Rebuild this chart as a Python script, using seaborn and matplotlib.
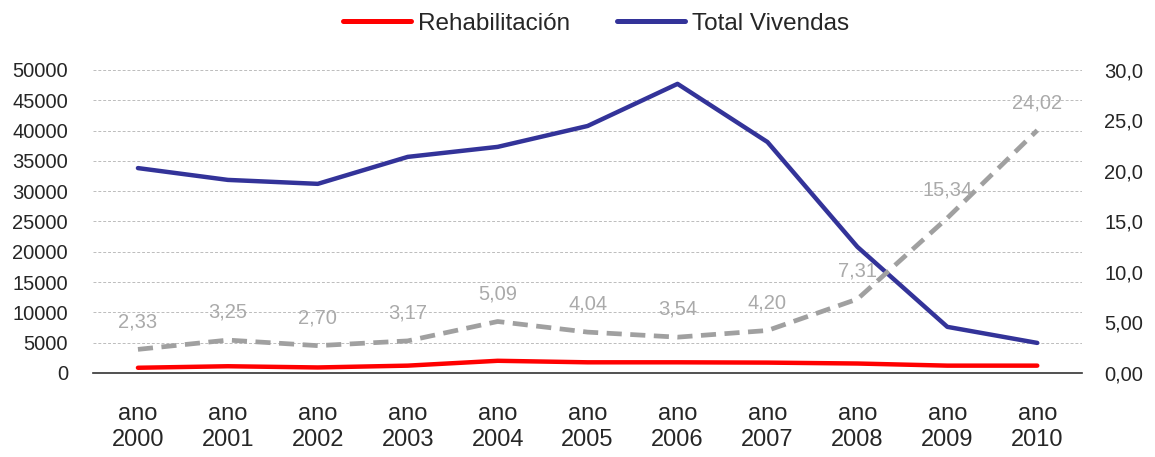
import numpy as np
import pandas as pd
import seaborn as sns
import matplotlib.pyplot as plt
from matplotlib.lines import Line2D
from matplotlib.ticker import FixedLocator, FixedFormatter

years = ["2000", "2001", "2002", "2003", "2004", "2005", "2006", "2007", "2008", "2009", "2010"]
total_vivendas = [33800, 31850, 31200, 35650, 37300, 40750, 47700, 38100, 20800, 7600, 4950]
rehabilitacion = [850, 1100, 900, 1200, 2000, 1750, 1750, 1700, 1550, 1200, 1200]
pct_rehab = [2.33, 3.25, 2.70, 3.17, 5.09, 4.04, 3.54, 4.20, 7.31, 15.34, 24.02]
right_tick_labels = ["0,00", "5,00", "10,0", "15,0", "20,0", "25,0", "30,0"]

sns.set_style("white")
plt.rcParams['font.family'] = ['Liberation Sans', 'DejaVu Sans']

df = pd.DataFrame({
    "x": np.arange(len(years)),
    "total": total_vivendas,
    "rehab": rehabilitacion,
    "pct": pct_rehab,
})

fig = plt.figure(figsize=(11.55, 4.57), dpi=100)
ax = fig.add_axes([0.0805, 0.184, 0.8565, 0.663])
ax2 = ax.twinx()

# left axis: absolute numbers
sns.lineplot(data=df, x="x", y="total", ax=ax, color="#333399", linewidth=3.2, zorder=4)
sns.lineplot(data=df, x="x", y="rehab", ax=ax, color="#ff0000", linewidth=3.2, zorder=4)

# right axis: percentage
sns.lineplot(data=df, x="x", y="pct", ax=ax2, color="#a0a0a0", linewidth=3.4,
             dashes=False, zorder=3)
ax2.lines[0].set_dashes([3.2, 1.8])
for i, v in enumerate(pct_rehab):
    ax2.annotate(f"{v:.2f}".replace(".", ","), (i, v), xytext=(0, 20),
                 textcoords="offset points", ha="center", va="center",
                 fontsize=14.5, color="#aaaaaa")

ax.set_xlim(-0.5, len(years) - 0.5)
ax.set_ylim(0, 50000)
ax2.set_ylim(0, 30)
ax.set_yticks(np.arange(0, 50001, 5000))
ax.yaxis.grid(True, linestyle=(0, (3, 2)), color="#bcbcbc", linewidth=0.7)
ax.set_axisbelow(True)
ax2.yaxis.set_major_locator(FixedLocator(np.arange(0, 31, 5)))
ax2.yaxis.set_major_formatter(FixedFormatter(right_tick_labels))

# category ticks between years, labels centred on years
ax.set_xticks(np.arange(-0.5, len(years), 1.0))
ax.set_xticklabels([])
ax.set_xticks(np.arange(len(years)), minor=True)
ax.set_xticklabels([f"ano\n{y}" for y in years], minor=True, fontsize=17, linespacing=1.2)
ax.tick_params(axis="x", which="major", direction="out", length=8, width=1.2, color="#333333")
ax.tick_params(axis="x", which="minor", length=0, pad=22)
ax.tick_params(axis="y", length=0, labelsize=14.5, pad=18)
ax2.tick_params(axis="y", length=0, labelsize=14.5, pad=16)

for a in (ax, ax2):
    a.set_xlabel("")
    a.set_ylabel("")
    for s in ("top", "left", "right"):
        a.spines[s].set_visible(False)
ax.spines["bottom"].set_color("#333333")
ax.spines["bottom"].set_linewidth(1.2)
ax2.spines["bottom"].set_visible(False)

handles = [Line2D([], [], color="#ff0000", linewidth=3.6),
           Line2D([], [], color="#333399", linewidth=3.6)]
fig.legend(handles, ["Rehabilitación", "Total Vivendas"], loc="upper center",
           bbox_to_anchor=(0.516, 1.02), ncol=2, frameon=False, fontsize=17.5,
           handlelength=2.8, handletextpad=0.3, columnspacing=1.9)

fig.savefig("out.png", dpi=100)
